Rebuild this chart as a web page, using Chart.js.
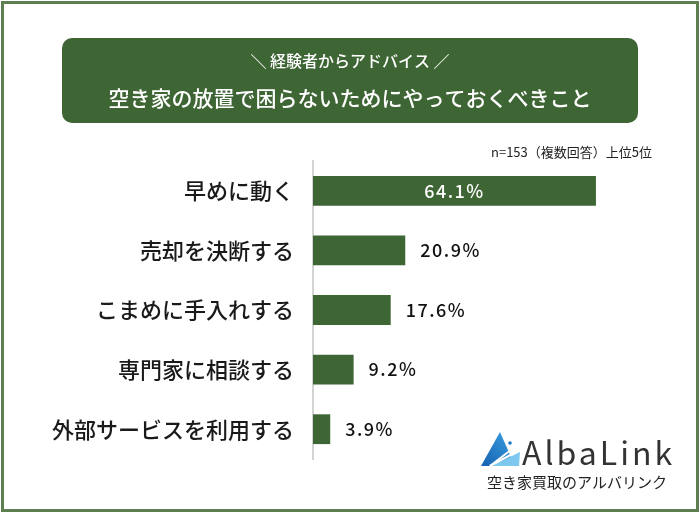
<!DOCTYPE html>
<html>
<head>
<meta charset="utf-8">
<script src="https://cdn.jsdelivr.net/npm/chart.js@4/dist/chart.umd.min.js"></script>
<style>
  html, body { margin: 0; padding: 0; background: #fff; }
  #wrap { position: relative; width: 700px; height: 514px; }
  canvas { display: block; }
</style>
</head>
<body>
<div id="wrap"><canvas id="c" width="700" height="514"></canvas></div>
<script>
// データ
const categories = ['早めに動く', '売却を決断する', 'こまめに手入れする', '専門家に相談する', '外部サービスを利用する'];
const values = [64.1, 20.9, 17.6, 9.2, 3.9];
const valueLabels = ['64.1%', '20.9%', '17.6%', '9.2%', '3.9%'];

const GREEN = '#3e6534';
const FONT = '"Noto Sans CJK JP", "Noto Sans", sans-serif';

// 枠・見出し・ロゴ
const decoPlugin = {
  id: 'deco',
  beforeDraw(chart) {
    const ctx = chart.ctx;
    ctx.save();
    ctx.fillStyle = '#fff';
    ctx.fillRect(0, 0, 700, 514);
    // 外枠
    ctx.strokeStyle = '#5d7f4f';
    ctx.lineWidth = 3;
    ctx.strokeRect(2.5, 2.5, 695, 508);
    // 見出しボックス
    ctx.fillStyle = GREEN;
    ctx.beginPath();
    ctx.roundRect(62, 38, 576, 85, 10);
    ctx.fill();
    ctx.fillStyle = '#fff';
    ctx.textAlign = 'center';
    ctx.textBaseline = 'middle';
    ctx.font = '500 16px ' + FONT;
    ctx.fillText('＼ 経験者からアドバイス ／', 350, 61);
    ctx.font = '500 21px ' + FONT;
    ctx.fillText('空き家の放置で困らないためにやっておくべきこと', 350, 98);
    // n数
    ctx.fillStyle = '#222';
    ctx.textAlign = 'right';
    ctx.font = '13px ' + FONT;
    ctx.fillText('n=153（複数回答）上位5位', 652, 152);
    ctx.restore();
  },
  afterDraw(chart) {
    const ctx = chart.ctx;
    ctx.save();
    // ロゴアイコン
    const g = ctx.createLinearGradient(480, 466, 512, 432);
    g.addColorStop(0, '#1560b0');
    g.addColorStop(1, '#3aa0e0');
    ctx.fillStyle = g;
    ctx.beginPath();
    ctx.moveTo(500, 432);
    ctx.lineTo(481, 466);
    ctx.lineTo(515, 466);
    ctx.closePath();
    ctx.fill();
    ctx.strokeStyle = '#fff';
    ctx.lineWidth = 2;
    for (let i = 0; i < 3; i++) {
      ctx.beginPath();
      ctx.moveTo(490, 466);
      ctx.lineTo(516, 446 + i * 6);
      ctx.stroke();
    }
    ctx.fillStyle = '#7cc8ee';
    ctx.beginPath();
    ctx.moveTo(492, 466);
    ctx.lineTo(520, 452);
    ctx.lineTo(519, 466);
    ctx.closePath();
    ctx.fill();
    ctx.fillStyle = '#1a78c8';
    ctx.beginPath();
    ctx.arc(510, 443, 1.8, 0, Math.PI * 2);
    ctx.fill();
    // ロゴ文字
    ctx.fillStyle = '#333';
    ctx.textAlign = 'left';
    ctx.textBaseline = 'alphabetic';
    ctx.font = '32px ' + FONT;
    ctx.letterSpacing = '3px';
    ctx.fillText('AlbaLink', 522, 465);
    ctx.letterSpacing = '0px';
    ctx.font = '15px ' + FONT;
    ctx.fillStyle = '#222';
    ctx.fillText('空き家買取のアルバリンク', 487, 488);
    ctx.restore();
  }
};

// 値ラベル
const valuePlugin = {
  id: 'values',
  afterDatasetsDraw(chart) {
    const ctx = chart.ctx;
    const meta = chart.getDatasetMeta(0);
    ctx.save();
    ctx.font = '500 18px ' + FONT;
    ctx.letterSpacing = '1.5px';
    ctx.textBaseline = 'middle';
    meta.data.forEach((bar, i) => {
      if (i === 0) {
        ctx.fillStyle = '#fff';
        ctx.textAlign = 'center';
        ctx.fillText(valueLabels[i], (bar.base + bar.x) / 2, bar.y);
      } else {
        ctx.fillStyle = '#111';
        ctx.textAlign = 'left';
        ctx.fillText(valueLabels[i], bar.x + 15, bar.y);
      }
    });
    ctx.restore();
  }
};

new Chart(document.getElementById('c'), {
  type: 'bar',
  data: {
    labels: categories,
    datasets: [{
      data: values,
      backgroundColor: GREEN,
      barPercentage: 0.5,
      categoryPercentage: 1
    }]
  },
  options: {
    indexAxis: 'y',
    responsive: false,
    animation: false,
    layout: { padding: { left: 0, right: 78, top: 161, bottom: 55 } },
    plugins: { legend: { display: false }, tooltip: { enabled: false } },
    scales: {
      x: { min: 0, max: 70, display: false },
      y: {
        grid: { display: false },
        border: { display: true, color: '#d4d4d4', width: 2 },
        ticks: { color: '#1a1a1a', padding: 11, font: { family: FONT, size: 22, weight: '500' } },
        afterFit(scale) { scale.width = 313; }
      }
    }
  },
  plugins: [decoPlugin, valuePlugin]
});
</script>
</body>
</html>
